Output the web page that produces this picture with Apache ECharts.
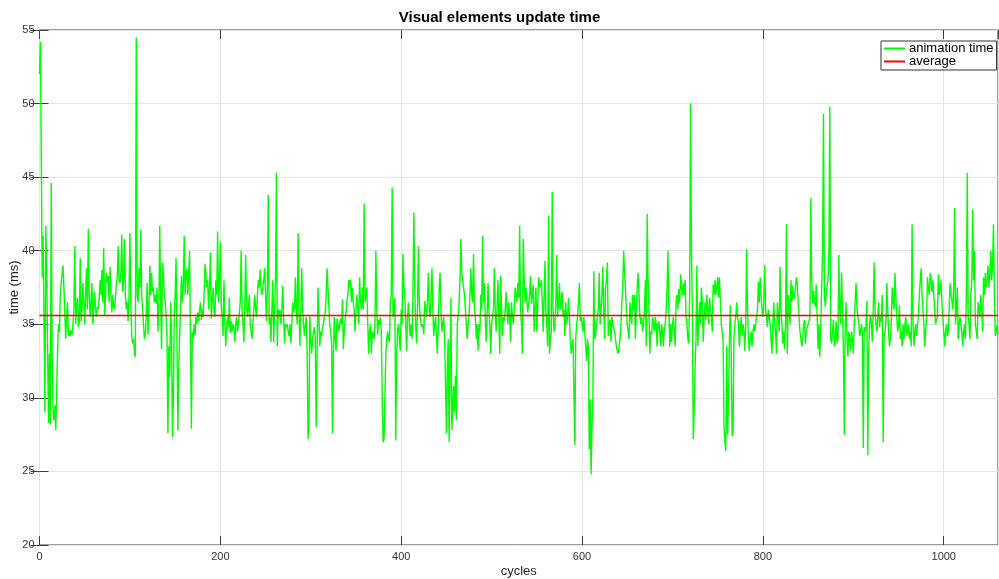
<!DOCTYPE html>
<html>
<head>
<meta charset="utf-8">
<script src="https://cdn.jsdelivr.net/npm/echarts@6/dist/echarts.min.js"></script>
<style>html,body{margin:0;padding:0;background:#fff;}#c{width:999px;height:579px;}</style>
</head>
<body>
<div id="c"></div>
<script>
const titleText = 'Visual elements update time';
const seriesNames = ['animation time', 'average'];
const xTicks = [0, 200, 400, 600, 800, 1000];
const yTicks = [20, 25, 30, 35, 40, 45, 50, 55];
const averageValue = 35.6;
// animation time per cycle (index = cycle)
const times = [
52.0,54.2,54.3,38.2,41.0,40.9,29.0,41.7,38.5,33.2,28.3,33.0,28.2,44.6,33.0,29.0,28.5,29.5,27.8,30.5,
33.2,35.0,34.5,37.0,37.8,38.5,39.0,37.5,37.6,34.0,35.5,36.5,34.2,34.5,34.2,34.6,34.3,35.0,36.0,40.3,
35.0,36.2,36.8,34.8,35.2,39.5,35.2,36.0,37.8,36.5,35.0,37.0,38.8,36.0,41.5,37.0,35.5,36.5,37.8,35.0,
36.2,37.2,36.0,35.5,36.2,36.0,36.8,38.0,37.0,38.7,36.5,40.2,35.6,37.0,38.5,37.8,38.3,36.5,38.9,37.0,
35.8,37.0,36.2,36.0,36.8,37.7,38.2,40.3,38.0,37.8,38.5,41.1,37.2,38.0,40.8,37.0,36.0,36.5,35.2,37.0,
41.2,36.5,34.2,33.7,34.0,33.0,32.8,54.5,37.0,36.5,38.8,37.5,41.4,37.0,36.0,35.0,34.0,34.3,35.5,37.8,
34.3,36.0,39.0,37.0,38.5,37.2,37.5,36.5,37.0,36.4,37.5,34.5,36.0,41.7,36.5,33.3,39.2,38.4,37.0,36.6,
35.6,34.0,27.6,33.5,31.4,36.5,34.4,27.3,30.0,35.5,37.0,39.5,34.0,27.8,32.0,34.2,36.0,38.3,36.5,37.5,
41.0,37.0,38.5,38.8,37.0,38.5,40.0,33.5,27.9,34.5,34.0,35.0,34.3,35.5,35.0,35.8,35.2,36.0,36.5,35.3,
36.0,35.5,37.0,39.1,38.5,37.5,38.0,36.0,37.5,39.9,35.4,36.5,37.5,36.0,35.5,38.0,37.0,41.3,36.5,38.0,
40.6,36.4,35.5,34.2,38.0,35.0,33.5,35.0,35.5,34.8,36.8,34.4,35.2,34.5,35.0,34.8,33.8,35.0,35.5,34.5,
35.0,35.8,36.5,40.0,36.0,35.0,33.8,36.0,39.7,36.5,35.5,36.0,37.0,35.0,34.5,34.0,35.0,36.0,37.0,36.0,
35.5,37.0,38.0,37.5,38.7,37.5,37.0,37.5,38.0,38.8,37.0,35.2,37.5,43.8,35.0,35.5,33.8,36.0,38.0,33.8,
36.0,38.0,45.3,33.5,36.0,35.5,36.0,35.0,36.0,37.6,35.5,33.7,35.0,34.8,35.0,34.5,34.2,35.0,33.7,35.0,
36.5,35.8,36.1,38.2,36.0,35.0,41.2,36.0,33.5,36.0,38.8,36.0,35.0,34.2,35.0,35.5,33.0,27.2,28.5,35.6,
34.0,33.0,34.0,34.5,34.8,34.0,28.0,33.0,37.5,35.5,33.5,34.5,34.2,34.8,35.0,35.5,35.8,37.0,38.8,37.5,
37.5,35.0,34.5,33.8,27.6,33.0,35.5,34.0,33.2,35.4,35.0,34.5,35.0,35.4,35.0,36.7,33.3,34.5,35.3,35.8,
36.6,37.0,38.0,37.5,38.0,36.5,37.5,36.5,36.0,34.5,36.0,37.0,36.0,35.0,38.2,36.5,36.0,37.5,36.0,43.2,
36.5,37.0,37.5,35.0,33.0,34.5,35.0,33.0,34.5,34.2,34.0,35.0,40.0,36.0,34.3,35.3,35.0,35.5,34.5,30.0,
27.0,27.2,27.1,33.0,34.0,34.5,34.0,33.8,36.5,37.0,44.3,35.5,36.0,36.8,27.1,33.0,34.6,35.0,34.0,33.2,
36.0,35.0,39.8,37.5,37.0,35.0,33.2,35.5,36.5,35.0,34.2,35.0,34.0,37.0,42.6,37.5,35.0,33.7,36.0,40.3,
36.5,35.5,35.0,34.8,35.0,34.3,36.6,36.0,35.5,36.5,38.5,36.0,35.5,37.0,38.8,36.0,34.2,35.0,35.5,34.2,
33.0,35.0,37.4,38.5,36.0,34.5,35.0,35.5,34.0,31.0,27.6,32.0,34.0,27.0,32.0,36.8,27.8,29.5,30.8,29.0,
31.5,28.5,35.0,35.5,36.5,38.0,40.8,38.5,38.0,37.5,37.0,36.0,35.0,34.0,35.0,35.5,37.0,38.8,37.0,36.5,
39.8,36.0,35.5,34.0,35.0,33.2,35.0,34.5,37.0,36.0,41.0,36.5,37.8,35.5,33.8,35.5,37.8,36.0,35.0,33.0,
35.0,35.5,36.0,38.8,36.0,34.5,36.0,38.0,35.5,33.0,38.3,36.0,34.2,35.5,35.2,36.0,37.2,36.0,35.0,36.5,
35.5,33.8,36.5,35.5,35.0,36.0,37.5,37.0,36.5,37.8,36.8,41.7,36.0,35.0,33.0,40.8,38.0,36.5,37.5,36.5,
35.8,36.5,37.0,38.3,36.4,37.0,37.7,34.5,36.0,37.5,34.5,36.5,38.2,37.7,37.5,38.0,36.5,34.5,36.5,39.3,
36.0,35.0,33.5,42.4,33.0,34.0,34.5,44.0,36.0,34.5,34.8,36.5,39.7,35.5,36.5,37.8,36.0,36.5,37.2,35.5,
36.0,34.2,36.5,35.0,35.5,36.8,35.5,34.0,33.0,33.5,34.0,30.5,26.8,34.0,35.0,35.5,36.5,37.8,35.2,35.5,
35.0,34.5,35.5,34.5,33.5,32.5,34.0,33.5,26.5,29.9,24.8,28.0,30.0,38.6,34.0,34.3,35.0,35.5,36.0,38.5,
35.0,36.0,37.0,38.9,36.0,34.0,37.5,38.0,39.2,34.2,35.0,35.3,33.8,35.5,35.0,35.0,34.5,34.0,33.5,33.2,
33.0,33.5,34.0,35.0,36.5,37.5,40.0,38.5,37.5,36.0,35.0,34.5,34.0,36.5,35.5,35.0,37.0,36.0,37.0,34.0,
36.0,37.5,38.5,37.0,35.5,35.0,35.5,34.5,35.0,36.0,38.0,33.5,42.5,38.0,36.0,33.0,34.5,34.3,35.5,35.0,
34.5,35.5,35.0,33.5,35.0,35.2,34.5,33.5,35.0,34.5,33.5,34.8,35.0,36.0,37.5,40.0,36.0,33.5,35.0,33.8,
35.0,35.5,34.5,33.5,36.5,37.0,36.0,37.4,36.5,38.4,37.5,37.0,37.8,37.0,38.0,35.5,35.0,34.0,33.7,37.0,
50.0,40.0,36.0,27.2,29.0,32.0,34.0,39.0,33.5,35.0,36.5,35.0,37.5,36.5,33.8,35.5,36.5,35.3,37.0,36.0,
35.0,36.8,36.0,35.5,34.5,37.7,37.0,38.0,37.0,37.5,38.2,36.8,38.2,36.5,35.0,34.5,33.8,28.0,27.0,26.4,
33.5,27.5,30.0,34.0,36.3,33.0,27.4,27.8,34.0,35.0,35.5,36.5,35.5,35.0,33.5,34.5,35.5,34.2,35.0,34.5,
33.2,35.0,40.1,36.0,34.0,33.2,34.0,34.5,33.5,34.5,35.0,34.5,34.5,35.5,36.0,37.9,36.5,38.2,37.0,36.0,
35.5,36.5,39.0,36.0,35.5,34.8,36.0,35.5,35.0,34.0,33.0,35.0,36.5,35.0,34.5,33.0,36.5,35.5,34.5,38.9,
36.0,35.0,33.7,34.5,33.3,35.0,41.8,33.0,37.0,36.0,35.0,38.0,36.5,37.6,36.7,37.0,37.5,38.2,37.8,36.5,
35.5,34.5,34.0,33.5,34.0,35.0,35.3,33.7,34.5,34.8,35.0,35.2,35.5,43.6,38.0,36.4,37.3,36.5,36.2,37.7,
35.5,33.3,35.0,32.8,35.0,37.5,40.0,49.3,37.0,36.2,37.0,37.6,38.0,40.0,49.8,34.0,33.7,34.5,35.3,33.5,
34.0,35.2,33.7,34.0,39.7,36.0,35.0,38.5,36.0,33.5,27.5,34.8,36.5,34.0,32.8,34.5,34.0,33.2,34.5,34.0,
33.0,35.0,36.5,37.8,36.2,35.5,35.2,34.2,34.5,35.0,34.5,26.6,34.8,34.5,34.8,36.6,26.1,33.0,35.0,35.6,
35.0,33.8,36.0,39.2,36.0,35.0,34.5,35.5,36.5,34.8,35.5,35.2,37.0,27.0,34.0,34.5,35.0,37.8,36.0,34.5,
33.5,34.0,35.0,37.5,36.5,36.0,38.5,37.0,35.5,34.5,35.0,36.3,34.0,34.5,33.5,35.0,34.0,35.0,35.5,34.2,
34.5,35.0,34.0,34.5,33.5,41.8,35.0,33.5,34.5,35.0,34.2,35.0,35.5,37.0,38.0,38.8,37.0,36.0,35.0,33.5,
34.5,35.5,38.2,37.5,37.0,38.5,38.0,37.2,38.0,37.0,36.0,35.0,35.3,35.5,38.4,37.0,37.5,38.0,36.5,35.5,
34.5,33.5,34.5,35.0,34.2,34.5,34.5,37.8,37.0,36.6,36.0,37.5,42.9,35.0,36.0,37.5,34.0,35.0,35.5,35.5,
34.5,33.5,34.5,35.0,34.0,37.0,45.3,35.5,35.0,34.0,37.0,38.0,42.8,38.0,40.0,35.0,34.5,34.0,36.5,36.0,
35.5,37.0,36.0,34.5,38.2,37.0,38.5,37.5,38.0,39.0,37.5,38.5,40.0,38.0,39.0,41.8,37.0,34.2,34.5,35.0,
34.3
];
const xMin = 0, xMax = times.length - 1, yMin = 20, yMax = 55;

const mainData = times.map((v, i) => [i, v]);
const avgData = [[xMin, averageValue], [xMax, averageValue]];

const chart = echarts.init(document.getElementById('c'), null, {renderer: 'canvas'});
const axisCol = '#3c3c3c';
const gridCol = '#e6e6e6';
const font = 'Liberation Sans, Arial, Helvetica, sans-serif';
chart.setOption({
  animation: false,
  backgroundColor: '#ffffff',
  title: {
    text: titleText, left: 'center', top: 5,
    textStyle: {fontFamily: font, fontSize: 15, fontWeight: 'bold', color: '#000'}
  },
  legend: {
    orient: 'vertical', left: 881, top: 41,
    padding: [1, 3, 2, 3], itemGap: 0, itemWidth: 21, itemHeight: 2,
    icon: 'rect', borderColor: '#333', borderWidth: 1, backgroundColor: '#fff',
    textStyle: {fontFamily: font, fontSize: 13, lineHeight: 13, color: '#000', padding: [0, 0, 0, -1]},
    data: seriesNames
  },
  grid: {left: 39.5, right: 1, top: 30, bottom: 34, show: true, borderColor: axisCol, borderWidth: 1,
    containLabel: false, outerBoundsMode: 'none'},
  xAxis: [{
    type: 'value', min: xMin, max: xMax, interval: 200, position: 'bottom',
    name: 'cycles', nameLocation: 'middle', nameGap: 20, nameMoveOverlap: false,
    nameTextStyle: {fontFamily: font, fontSize: 13, color: '#262626'},
    axisLine: {show: false},
    axisTick: {show: true, inside: true, length: 9, lineStyle: {color: axisCol}},
    axisLabel: {fontFamily: font, fontSize: 11, color: '#333', margin: 6, showMaxLabel: false,
      formatter: v => xTicks.includes(v) ? String(v) : ''},
    splitLine: {show: true, lineStyle: {color: gridCol, width: 1}}
  }, {
    type: 'value', min: xMin, max: xMax, interval: 200, position: 'top',
    axisLine: {show: false}, axisLabel: {show: false}, splitLine: {show: false},
    axisTick: {show: true, inside: true, length: 9, lineStyle: {color: axisCol}}
  }],
  yAxis: [{
    type: 'value', min: yMin, max: yMax, interval: 5, position: 'left',
    name: 'time (ms)', nameLocation: 'middle', nameGap: 19, nameRotate: 90, nameMoveOverlap: false,
    nameTextStyle: {fontFamily: font, fontSize: 13, color: '#262626'},
    axisLine: {show: false},
    axisTick: {show: true, inside: true, length: 9, lineStyle: {color: axisCol}},
    axisLabel: {fontFamily: font, fontSize: 11, color: '#333', margin: 5,
      formatter: v => yTicks.includes(v) ? String(v) : ''},
    splitLine: {show: true, lineStyle: {color: gridCol, width: 1}}
  }, {
    type: 'value', min: yMin, max: yMax, interval: 5, position: 'right',
    axisLine: {show: false}, axisLabel: {show: false}, splitLine: {show: false},
    axisTick: {show: true, inside: true, length: 9, lineStyle: {color: axisCol}}
  }],
  series: [{
    name: seriesNames[0], type: 'line', data: mainData, showSymbol: false, symbol: 'none',
    color: '#00ff00', lineStyle: {color: '#00ff00', width: 1.4}, sampling: 'none', z: 3
  }, {
    name: seriesNames[1], type: 'line', data: avgData, showSymbol: false, symbol: 'none',
    color: '#ff0000', lineStyle: {color: '#ff0000', width: 1.5}, z: 4
  }]
});
</script>
</body>
</html>
